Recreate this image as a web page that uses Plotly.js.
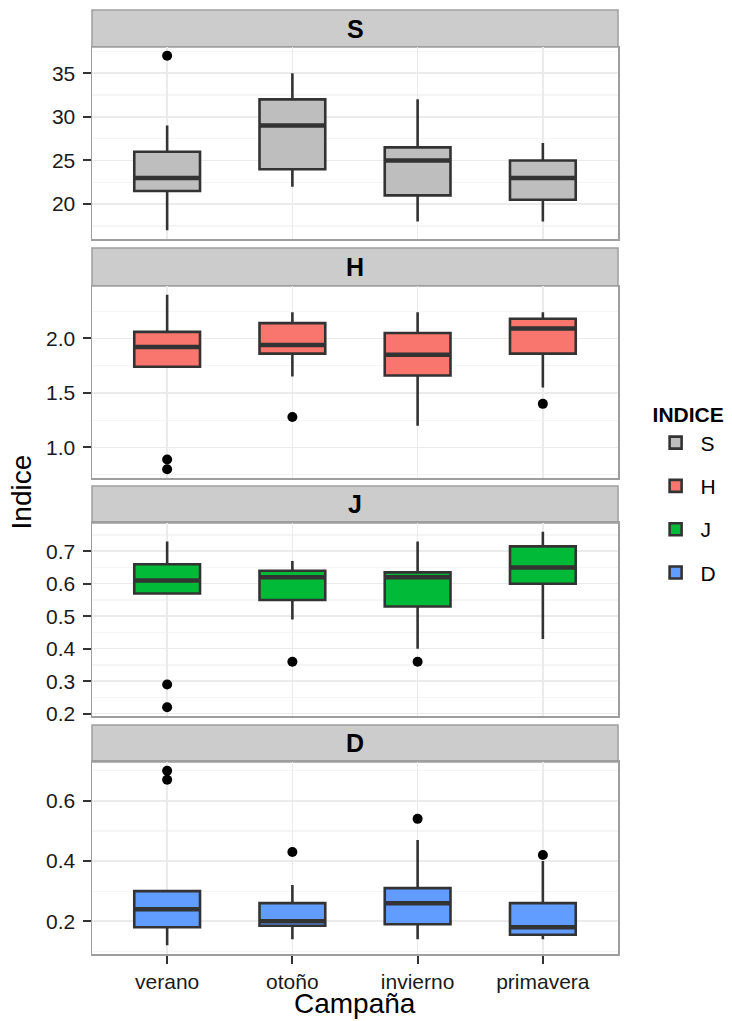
<!DOCTYPE html>
<html>
<head>
<meta charset="utf-8">
<script src="https://cdn.plot.ly/plotly-3.0.1.min.js"></script>
<style>html,body{margin:0;padding:0;background:#fff;}#chart{width:732px;height:1021px;}</style>
</head>
<body>
<div id="chart"></div>
<script>
// ---------- data ----------
const categories = ['verano', 'otoño', 'invierno', 'primavera'];
const indices = ['S', 'H', 'J', 'D'];

const S_low  = [17, 22, 18, 18];
const S_q1   = [21.5, 24, 21, 20.5];
const S_med  = [23, 29, 25, 23];
const S_q3   = [26, 32, 26.5, 25];
const S_high = [29, 35, 32, 27];
const S_out_x = ['verano'];
const S_out_y = [37];

const H_low  = [1.74, 1.65, 1.20, 1.55];
const H_q1   = [1.74, 1.86, 1.66, 1.86];
const H_med  = [1.92, 1.94, 1.85, 2.09];
const H_q3   = [2.06, 2.14, 2.05, 2.18];
const H_high = [2.40, 2.24, 2.24, 2.24];
const H_out_x = ['verano', 'verano', 'otoño', 'primavera'];
const H_out_y = [0.89, 0.80, 1.28, 1.40];

const J_low  = [0.57, 0.49, 0.40, 0.43];
const J_q1   = [0.57, 0.55, 0.53, 0.60];
const J_med  = [0.61, 0.62, 0.62, 0.65];
const J_q3   = [0.66, 0.64, 0.635, 0.715];
const J_high = [0.73, 0.67, 0.73, 0.76];
const J_out_x = ['verano', 'verano', 'otoño', 'invierno'];
const J_out_y = [0.29, 0.22, 0.36, 0.36];

const D_low  = [0.12, 0.14, 0.14, 0.14];
const D_q1   = [0.18, 0.185, 0.19, 0.155];
const D_med  = [0.24, 0.20, 0.26, 0.18];
const D_q3   = [0.30, 0.26, 0.31, 0.26];
const D_high = [0.30, 0.32, 0.47, 0.40];
const D_out_x = ['verano', 'verano', 'otoño', 'invierno', 'primavera'];
const D_out_y = [0.70, 0.67, 0.43, 0.54, 0.42];

// ---------- styling ----------
const fills = {S: '#BEBEBE', H: '#F8766D', J: '#00BA38', D: '#619CFF'};
const majorDtick = {S: 5, H: 0.5, J: 0.1, D: 0.2};
const FONT = 'Liberation Sans, Arial, sans-serif';

const panels = [
  {key: 'S', low: S_low, q1: S_q1, med: S_med, q3: S_q3, high: S_high, ox: S_out_x, oy: S_out_y},
  {key: 'H', low: H_low, q1: H_q1, med: H_med, q3: H_q3, high: H_high, ox: H_out_x, oy: H_out_y},
  {key: 'J', low: J_low, q1: J_q1, med: J_med, q3: J_q3, high: J_high, ox: J_out_x, oy: J_out_y},
  {key: 'D', low: D_low, q1: D_q1, med: D_med, q3: D_q3, high: D_high, ox: D_out_x, oy: D_out_y}
];

// panel domains (plot area) and strip tops, in paper fraction (top to bottom)
const domains = [[0.7574, 0.9608], [0.5042, 0.7076], [0.2521, 0.4566], [0.0, 0.2034]];
const stripTops = [1.0, 0.7479, 0.4958, 0.2426];

const traces = [];
const layout = {
  width: 732, height: 1021,
  margin: {l: 92, r: 114, t: 10, b: 67, autoexpand: false},
  paper_bgcolor: '#ffffff', plot_bgcolor: '#ffffff',
  font: {family: FONT, size: 21, color: '#1a1a1a'},
  boxmode: 'overlay', boxgap: 0.25,
  showlegend: true,
  legend: {
    x: 1.062, xanchor: 'left', y: 0.592, yanchor: 'top',
    title: {text: '<b>INDICE</b>', font: {size: 21, family: FONT, color: '#000'}},
    font: {size: 21, family: FONT, color: '#000'},
    tracegroupgap: 13, itemwidth: 40, bgcolor: 'rgba(0,0,0,0)'
  },
  shapes: [], annotations: []
};

panels.forEach((p, i) => {
  const n = i + 1;
  const xa = n === 1 ? 'x' : 'x' + n;
  const ya = n === 1 ? 'y' : 'y' + n;
  traces.push({
    type: 'box', name: p.key, legendgroup: p.key, showlegend: true,
    xaxis: xa, yaxis: ya,
    x: categories, q1: p.q1, median: p.med, q3: p.q3,
    lowerfence: p.low, upperfence: p.high,
    boxpoints: false, whiskerwidth: 0,
    fillcolor: fills[p.key], line: {color: '#333333', width: 2.6},
    hoverinfo: 'skip'
  });
  // thicker median bar (zero-height box at the median)
  traces.push({
    type: 'box', name: p.key + ' median', showlegend: false,
    xaxis: xa, yaxis: ya,
    x: categories, q1: p.med, median: p.med, q3: p.med,
    lowerfence: p.med, upperfence: p.med,
    boxpoints: false, whiskerwidth: 0,
    fillcolor: '#333333', line: {color: '#333333', width: 4.5},
    hoverinfo: 'skip'
  });
  traces.push({
    type: 'scatter', mode: 'markers', showlegend: false,
    xaxis: xa, yaxis: ya, x: p.ox, y: p.oy,
    marker: {color: '#000000', size: 10}, hoverinfo: 'skip'
  });

  const allY = p.low.concat(p.high, p.oy);
  const mn = Math.min(...allY), mx = Math.max(...allY);
  const pad = 0.05 * (mx - mn);
  const dt = majorDtick[p.key];

  layout['xaxis' + (n === 1 ? '' : n)] = {
    domain: [0, 1], anchor: ya, type: 'category',
    categoryorder: 'array', categoryarray: categories,
    range: [-0.6, 3.6], fixedrange: true, automargin: false,
    showgrid: true, gridcolor: '#EBEBEB', gridwidth: 1.5,
    showline: true, mirror: true, linecolor: '#9E9E9E', linewidth: 1.5,
    zeroline: false,
    showticklabels: n === 4,
    ticks: n === 4 ? 'outside' : '', ticklen: 8, tickwidth: 2, tickcolor: '#333333',
    tickfont: {size: 21, family: FONT, color: '#1a1a1a'}
  };
  layout['yaxis' + (n === 1 ? '' : n)] = {
    domain: domains[i], anchor: xa,
    range: [mn - pad, mx + pad], fixedrange: true, automargin: false,
    tick0: 0, dtick: dt, tickformat: p.key === 'S' ? 'd' : '.1f',
    showgrid: true, gridcolor: '#EBEBEB', gridwidth: 1.5,
    minor: {dtick: dt / 2, tick0: 0, showgrid: true, gridcolor: '#F5F5F5', gridwidth: 1.2, ticks: ''},
    showline: true, mirror: true, linecolor: '#9E9E9E', linewidth: 1.5,
    zeroline: false,
    ticks: 'outside', ticklen: 8, tickwidth: 2, tickcolor: '#333333',
    ticklabelstandoff: 3,
    tickfont: {size: 21, family: FONT, color: '#1a1a1a'}
  };

  // strip
  layout.shapes.push({
    type: 'rect', xref: 'paper', yref: 'paper',
    x0: 0, x1: 1, y0: domains[i][1], y1: stripTops[i],
    fillcolor: '#CCCCCC', line: {color: '#9E9E9E', width: 1.5}, layer: 'below'
  });
  layout.annotations.push({
    xref: 'paper', yref: 'paper', x: 0.5, y: (domains[i][1] + stripTops[i]) / 2,
    xanchor: 'center', yanchor: 'middle', showarrow: false,
    text: '<b>' + p.key + '</b>', font: {size: 25, family: FONT, color: '#000000'}
  });
});

layout.annotations.push({
  xref: 'paper', yref: 'paper', x: -0.135, y: 0.49, textangle: -90,
  xanchor: 'center', yanchor: 'middle', showarrow: false,
  text: 'Indice', font: {size: 28, family: FONT, color: '#000000'}
});
layout.annotations.push({
  xref: 'paper', yref: 'paper', x: 0.5, y: -0.052,
  xanchor: 'center', yanchor: 'middle', showarrow: false,
  text: 'Campaña', font: {size: 28, family: FONT, color: '#000000'}
});

Plotly.newPlot('chart', traces, layout, {staticPlot: true, displayModeBar: false});
</script>
</body>
</html>
